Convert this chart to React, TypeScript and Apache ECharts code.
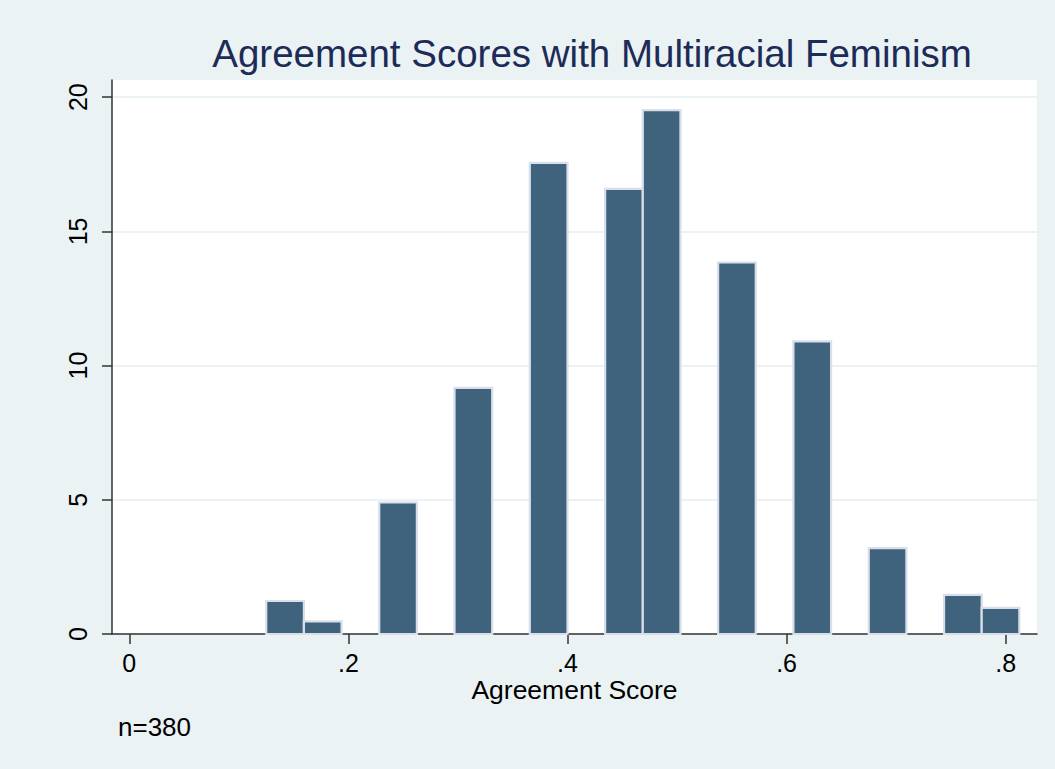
import React, { useEffect, useRef } from "react";
import * as echarts from "echarts";

const TITLE = "Agreement Scores with Multiracial Feminism";
const X_TITLE = "Agreement Score";
const NOTE = "n=380";
const BIN_START = 0.125;
const BIN_WIDTH = 0.034375;
const PERCENTS = [1.23, 0.47, 0, 4.9, 0, 9.17, 0, 17.55, 0, 16.58, 19.52, 0, 13.84, 0, 10.9, 0, 3.2, 0, 1.46, 0.97];
const X_TICKS = [0, 0.2, 0.4, 0.6, 0.8];
const Y_TICKS = [0, 5, 10, 15, 20];

const FONT = "'Liberation Sans', Arial, Helvetica, sans-serif";

export default function App() {
  const ref = useRef<HTMLDivElement>(null);
  useEffect(() => {
    document.body.style.margin = "0";
    if (!ref.current) return;
    const chart = echarts.init(ref.current, null, { renderer: "svg" });
    const data = PERCENTS.map((p, i) => [BIN_START + i * BIN_WIDTH, BIN_START + (i + 1) * BIN_WIDTH, p]).filter((d) => d[2] > 0);
    chart.setOption({
      animation: false,
      backgroundColor: "#EAF2F3",
      title: {
        text: TITLE,
        left: 587,
        top: 29,
        textAlign: "center",
        textStyle: { fontFamily: FONT, fontSize: 38.5, fontWeight: "normal", color: "#1C2B57" },
      },
      grid: {
        left: 112,
        top: 80,
        right: 18,
        bottom: 135,
        show: true,
        backgroundColor: "#FFFFFF",
        borderWidth: 0,
      },
      xAxis: {
        type: "value",
        min: -0.0158,
        max: 0.8286,
        name: X_TITLE,
        nameLocation: "middle",
        nameGap: 46,
        nameMoveOverlap: false,
        nameTextStyle: { fontFamily: FONT, fontSize: 26.5, lineHeight: 20, color: "#000", verticalAlign: "top" },
        axisLine: { show: true, onZero: false, lineStyle: { color: "#333", width: 1.5 } },
        axisTick: { show: true, length: 10, customValues: X_TICKS, lineStyle: { color: "#333", width: 1.5 } },
        axisLabel: {
          customValues: X_TICKS,
          margin: 20,
          fontFamily: FONT,
          fontSize: 25,
          lineHeight: 18,
          color: "#000",
          formatter: (v: number) => (v === 0 ? "0" : String(v).replace(/^0/, "")),
        },
        splitLine: { show: false },
      },
      yAxis: {
        type: "value",
        min: 0,
        max: 20.64,
        axisLine: { show: true, onZero: false, lineStyle: { color: "#333", width: 1.5 } },
        axisTick: { show: true, length: 10, customValues: Y_TICKS, lineStyle: { color: "#333", width: 1.5 } },
        axisLabel: {
          customValues: Y_TICKS,
          rotate: 90,
          margin: 22,
          fontFamily: FONT,
          fontSize: 25,
          color: "#000",
        },
        splitLine: { show: true, lineStyle: { color: "#EAF2F3", width: 2 } },
      },
      graphic: [
        {
          type: "text",
          left: 118,
          top: 714,
          style: { text: NOTE, fontFamily: FONT, fontSize: 26, fill: "#000" },
        },
      ],
      series: [
        {
          type: "custom",
          encode: { x: [0, 1], y: 2 },
          data,
          renderItem: (params: any, api: any) => {
            const x0 = api.value(0);
            const x1 = api.value(1);
            const v = api.value(2);
            const p0 = api.coord([x0, v]);
            const p1 = api.coord([x1, 0]);
            return {
              type: "rect",
              shape: { x: p0[0], y: p0[1], width: p1[0] - p0[0], height: p1[1] - p0[1] },
              style: { fill: "#3F627D", stroke: "#D8DEEA", lineWidth: 2.2 },
            };
          },
        },
      ],
    });
    return () => chart.dispose();
  }, []);
  return <div ref={ref} style={{ width: 1055, height: 769 }} />;
}
